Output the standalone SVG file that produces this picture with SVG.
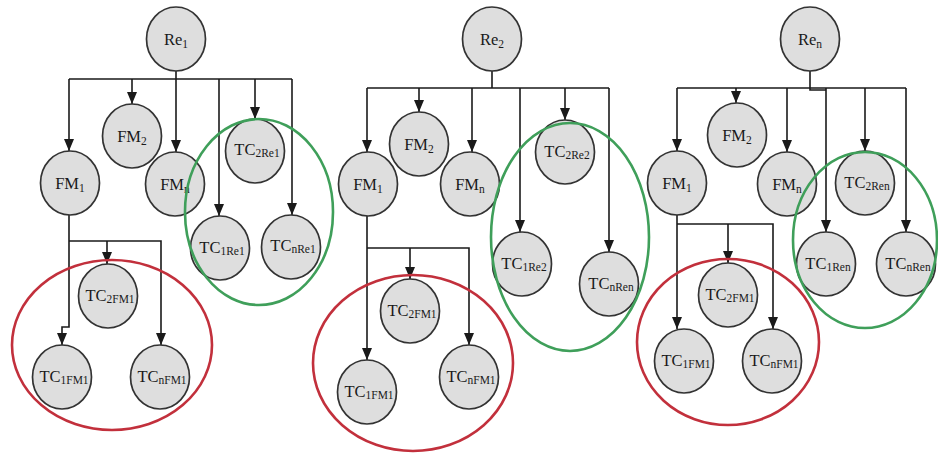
<svg xmlns="http://www.w3.org/2000/svg" width="938" height="454" viewBox="0 0 938 454">
<style>
.n{fill:#dedede;stroke:#333;stroke-width:1.7}
.c{fill:none;stroke:#1a1a1a;stroke-width:1.6}
.a{marker-end:url(#ah)}
.g{fill:none;stroke:#3f9f5a;stroke-width:2.6}
.r{fill:none;stroke:#c2303c;stroke-width:2.6}
text{font-family:"Liberation Serif","Times New Roman",serif;font-size:16.5px;fill:#1a1a1a;text-anchor:middle}
.s{font-size:11.5px}
</style>
<defs>
<marker id="ah" markerUnits="userSpaceOnUse" markerWidth="12" markerHeight="12" refX="12" refY="5" orient="auto" viewBox="0 0 12 10">
<path d="M0,0 L12,5 L0,10 z" fill="#1a1a1a"/>
</marker>
</defs>
<rect width="938" height="454" fill="#fff"/>
<g id="connectors">
<path class="c" d="M176 71 V79 M69 79 H292"/>
<path class="c a" d="M69 79 V151"/>
<path class="c a" d="M132 79 V104"/>
<path class="c a" d="M176 79 V152"/>
<path class="c a" d="M219 79 V216"/>
<path class="c a" d="M255 79 V119"/>
<path class="c a" d="M292 79 V215"/>
<path class="c a" d="M69 215 V327 H62 V345"/>
<path class="c a" d="M69 241 H161 V345"/>
<path class="c a" d="M107 241 V264"/>
<path class="c" d="M492 71 V88 M367 88 H609"/>
<path class="c a" d="M367 88 V152"/>
<path class="c a" d="M419 88 V112"/>
<path class="c a" d="M472 88 V152"/>
<path class="c a" d="M520 88 V232"/>
<path class="c a" d="M565 88 V120"/>
<path class="c a" d="M609 88 V252"/>
<path class="c a" d="M367 216 V360"/>
<path class="c a" d="M367 248 H469 V345"/>
<path class="c a" d="M410 248 V279"/>
<path class="c" d="M810 71 V90 H826 M677 88 H906"/>
<path class="c a" d="M677 88 V151"/>
<path class="c a" d="M736 88 V103"/>
<path class="c a" d="M787 88 V152"/>
<path class="c a" d="M826 88 V232"/>
<path class="c a" d="M865 88 V151"/>
<path class="c a" d="M906 88 V232"/>
<path class="c a" d="M677 215 V329"/>
<path class="c a" d="M677 224 H773 V329"/>
<path class="c a" d="M728 224 V263"/>
</g>
<g id="re1"><ellipse class="n" cx="176" cy="39" rx="29.5" ry="32"/><text x="176" y="45">Re<tspan class="s" dy="3">1</tspan></text></g>
<g id="p1fm1"><ellipse class="n" cx="70" cy="183" rx="29.5" ry="32"/><text x="70" y="189">FM<tspan class="s" dy="3">1</tspan></text></g>
<g id="p1fm2"><ellipse class="n" cx="132" cy="136" rx="29.5" ry="32"/><text x="132" y="142">FM<tspan class="s" dy="3">2</tspan></text></g>
<g id="p1fmn"><ellipse class="n" cx="175" cy="184" rx="29.5" ry="32"/><text x="175" y="190">FM<tspan class="s" dy="3">n</tspan></text></g>
<g id="tc2re1"><ellipse class="n" cx="255" cy="151" rx="29.5" ry="32"/><text x="257" y="155">TC<tspan class="s" dy="2">2Re1</tspan></text></g>
<g id="tc1re1"><ellipse class="n" cx="220" cy="248" rx="29.5" ry="32"/><text x="222" y="253">TC<tspan class="s" dy="2">1Re1</tspan></text></g>
<g id="tcnre1"><ellipse class="n" cx="291" cy="247" rx="29.5" ry="32"/><text x="293" y="251">TC<tspan class="s" dy="2">nRe1</tspan></text></g>
<g id="p1tc2fm1"><ellipse class="n" cx="108" cy="296" rx="29.5" ry="32"/><text x="110" y="301">TC<tspan class="s" dy="2">2FM1</tspan></text></g>
<g id="p1tc1fm1"><ellipse class="n" cx="62" cy="377" rx="29.5" ry="32"/><text x="64" y="382">TC<tspan class="s" dy="2">1FM1</tspan></text></g>
<g id="p1tcnfm1"><ellipse class="n" cx="160" cy="377" rx="29.5" ry="32"/><text x="162" y="382">TC<tspan class="s" dy="2">nFM1</tspan></text></g>
<g id="re2"><ellipse class="n" cx="492" cy="39" rx="29.5" ry="32"/><text x="492" y="45">Re<tspan class="s" dy="3">2</tspan></text></g>
<g id="p2fm1"><ellipse class="n" cx="368" cy="184" rx="29.5" ry="32"/><text x="368" y="190">FM<tspan class="s" dy="3">1</tspan></text></g>
<g id="p2fm2"><ellipse class="n" cx="419" cy="144" rx="29.5" ry="32"/><text x="419" y="150">FM<tspan class="s" dy="3">2</tspan></text></g>
<g id="p2fmn"><ellipse class="n" cx="470" cy="184" rx="29.5" ry="32"/><text x="470" y="190">FM<tspan class="s" dy="3">n</tspan></text></g>
<g id="tc2re2"><ellipse class="n" cx="565" cy="152" rx="29.5" ry="32"/><text x="567" y="157">TC<tspan class="s" dy="2">2Re2</tspan></text></g>
<g id="tc1re2"><ellipse class="n" cx="522" cy="264" rx="29.5" ry="32"/><text x="524" y="269">TC<tspan class="s" dy="2">1Re2</tspan></text></g>
<g id="p2tcnren"><ellipse class="n" cx="609" cy="284" rx="29.5" ry="32"/><text x="611" y="289">TC<tspan class="s" dy="2">nRen</tspan></text></g>
<g id="p2tc2fm1"><ellipse class="n" cx="410" cy="311" rx="29.5" ry="32"/><text x="412" y="316">TC<tspan class="s" dy="2">2FM1</tspan></text></g>
<g id="p2tc1fm1"><ellipse class="n" cx="367" cy="392" rx="29.5" ry="32"/><text x="369" y="397">TC<tspan class="s" dy="2">1FM1</tspan></text></g>
<g id="p2tcnfm1"><ellipse class="n" cx="469" cy="377" rx="29.5" ry="32"/><text x="471" y="382">TC<tspan class="s" dy="2">nFM1</tspan></text></g>
<g id="ren"><ellipse class="n" cx="810" cy="39" rx="29.5" ry="32"/><text x="810" y="45">Re<tspan class="s" dy="3">n</tspan></text></g>
<g id="p3fm1"><ellipse class="n" cx="677" cy="183" rx="29.5" ry="32"/><text x="677" y="189">FM<tspan class="s" dy="3">1</tspan></text></g>
<g id="p3fm2"><ellipse class="n" cx="737" cy="135" rx="29.5" ry="32"/><text x="737" y="141">FM<tspan class="s" dy="3">2</tspan></text></g>
<g id="p3fmn"><ellipse class="n" cx="787" cy="184" rx="29.5" ry="32"/><text x="787" y="190">FM<tspan class="s" dy="3">n</tspan></text></g>
<g id="tc2ren"><ellipse class="n" cx="865" cy="183" rx="29.5" ry="32"/><text x="867" y="188">TC<tspan class="s" dy="2">2Ren</tspan></text></g>
<g id="tc1ren"><ellipse class="n" cx="826" cy="264" rx="29.5" ry="32"/><text x="828" y="269">TC<tspan class="s" dy="2">1Ren</tspan></text></g>
<g id="tcnren"><ellipse class="n" cx="906" cy="264" rx="29.5" ry="32"/><text x="908" y="269">TC<tspan class="s" dy="2">nRen</tspan></text></g>
<g id="p3tc2fm1"><ellipse class="n" cx="728" cy="295" rx="29.5" ry="32"/><text x="730" y="300">TC<tspan class="s" dy="2">2FM1</tspan></text></g>
<g id="p3tc1fm1"><ellipse class="n" cx="684" cy="361" rx="29.5" ry="32"/><text x="686" y="366">TC<tspan class="s" dy="2">1FM1</tspan></text></g>
<g id="p3tcnfm1"><ellipse class="n" cx="772" cy="361" rx="29.5" ry="32"/><text x="774" y="366">TC<tspan class="s" dy="2">nFM1</tspan></text></g>
<g id="groups">
<ellipse class="g" cx="259" cy="212" rx="74" ry="93"/>
<ellipse class="g" cx="570" cy="237" rx="79" ry="114"/>
<ellipse class="g" cx="865" cy="240" rx="72" ry="88"/>
<ellipse class="r" cx="112" cy="345" rx="100" ry="85"/>
<ellipse class="r" cx="413" cy="363" rx="100" ry="88"/>
<ellipse class="r" cx="728" cy="342" rx="91" ry="83"/>
</g>
</svg>
